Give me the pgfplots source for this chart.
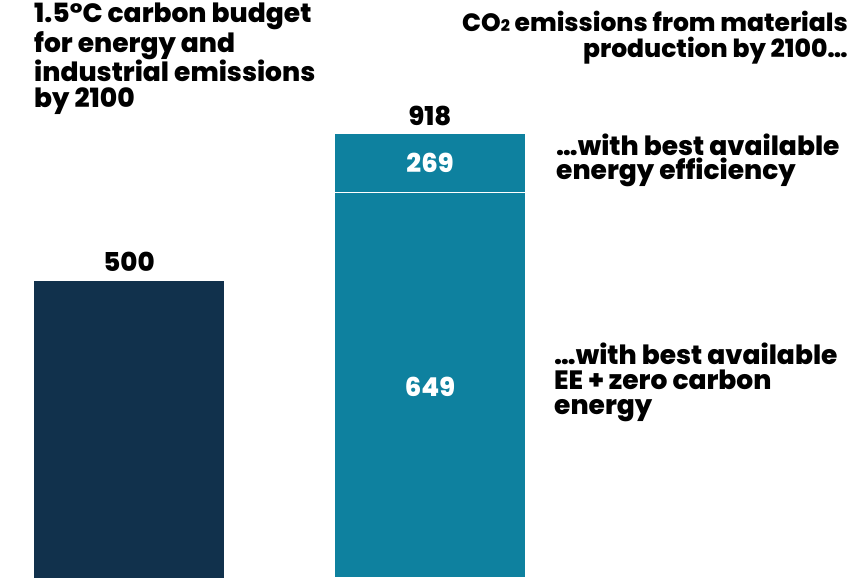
\documentclass[border=0pt]{standalone}
\usepackage{fontspec}
\setmainfont{Poppins}[BoldFont={Poppins ExtraBold}]
\usepackage{pgfplots}
\pgfplotsset{compat=1.18}
\definecolor{navy}{HTML}{11314C}
\definecolor{teal}{HTML}{0E819F}
\begin{document}
\begin{tikzpicture}[x=1pt,y=1pt,font=\fontsize{26}{25.5}\selectfont\bfseries]
\path[use as bounding box] (0,0) rectangle (850,578);
\begin{axis}[
  at={(0,0)}, anchor=south west,
  scale only axis, width=850pt, height=443pt,
  xmin=0, xmax=850, ymin=0, ymax=746,
  hide axis, clip mode=individual,
]
% budget
\addplot[ybar, bar width=190pt, fill=navy, draw=none] coordinates {(129,500)};
% materials: total and the part left with zero carbon energy
\addplot[ybar, bar width=190pt, fill=teal, draw=none] coordinates {(430,918)};
\addplot[ybar, bar width=191.5pt, fill=teal, draw=white, line width=1.5pt] coordinates {(430,649)};
\end{axis}
% titles (base = last line)
\node[anchor=base west, align=left, inner sep=0pt, font=\fontsize{26.5}{26}\selectfont\bfseries] at (34,470) {1.5°C carbon budget\\for energy and\\industrial emissions\\by 2100};
\node[anchor=base east, align=right, inner sep=0pt, font=\fontsize{25}{26}\selectfont\bfseries] at (848,520) {CO{\fontsize{16}{16}\selectfont 2} emissions from materials\\production by 2100…};
% value labels
\node[anchor=base, inner sep=0pt] at (129,306) {500};
\node[anchor=base, inner sep=0pt] at (430,452) {918};
\node[anchor=base, inner sep=0pt, text=white] at (430,405) {269};
\node[anchor=base, inner sep=0pt, text=white] at (430,181) {649};
% annotations
\node[anchor=base west, align=left, inner sep=0pt, font=\fontsize{26.5}{24.5}\selectfont\bfseries] at (556,398) {…with best available\\energy efficiency};
\node[anchor=base west, align=left, inner sep=0pt, font=\fontsize{26.5}{25}\selectfont\bfseries] at (554,163) {…with best available\\EE + zero carbon\\energy};
\end{tikzpicture}
\end{document}
